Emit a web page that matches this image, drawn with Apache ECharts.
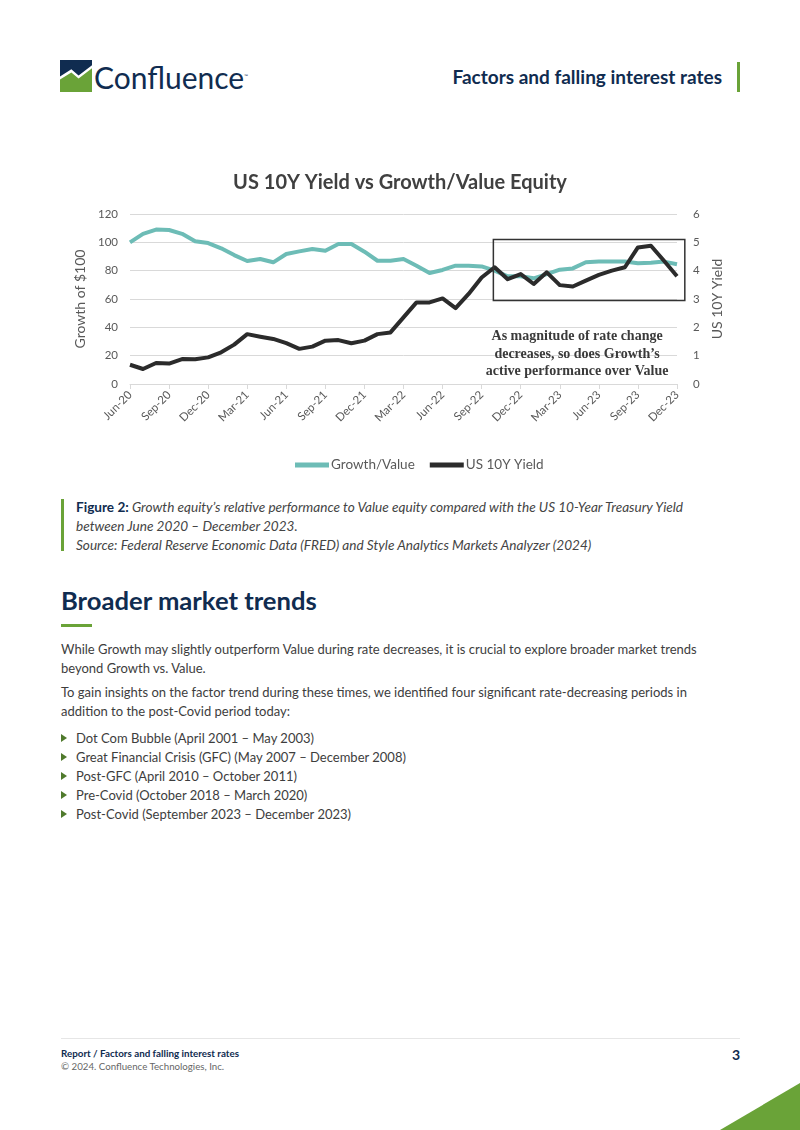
<!DOCTYPE html>
<html>
<head>
<meta charset="utf-8">
<script src="https://cdn.jsdelivr.net/npm/echarts@6/dist/echarts.min.js"></script>
<style>
  html, body { margin: 0; padding: 0; background: #fff; }
  #page { position: relative; width: 800px; height: 1130px; overflow: hidden; font-family: Lato, "Noto Sans", sans-serif; color: #3d3d3d; }
  .abs { position: absolute; white-space: nowrap; }
  .navy { color: #102c50; }
  #chart { position: absolute; left: 0; top: 150px; width: 800px; height: 340px; }
  .cap { font-size: 13.6px; font-style: italic; color: #444; line-height: 19px; }
  .para { font-size: 13px; line-height: 19px; color: #3d3d3d; }
  .bul { font-size: 13px; line-height: 19px; color: #3d3d3d; }
  .bul:before { content: ""; position: absolute; left: 0; top: 5px; border-left: 6px solid #4f7a2c; border-top: 4.5px solid transparent; border-bottom: 4.5px solid transparent; }
</style>
</head>
<body>
<div id="page">
  <!-- 页眉 -->
  <svg class="abs" style="left:60px;top:60px" width="32" height="32" viewBox="0 0 31 31">
    <polygon points="0,0 31,0 31,5 18,15 11,9 0,16" fill="#102c50"/>
    <polygon points="0,19 11,12 18,18 31,8 31,31 0,31" fill="#6aa338"/>
  </svg>
  <div class="abs navy" style="left:94px;top:58px;font-size:30px;line-height:36px;">Confluence<sup style="font-size:5px">™</sup></div>
  <div class="abs navy" style="right:78px;top:65px;font-size:19px;font-weight:bold;line-height:24px;">Factors and falling interest rates</div>
  <div class="abs" style="left:737px;top:62px;width:3px;height:30px;background:#6aa338;"></div>

  <div id="chart"></div>

  <!-- 图注 -->
  <div class="abs" style="left:61px;top:499px;width:3px;height:52px;background:#6aa338;"></div>
  <div class="abs cap" style="left:76px;top:498px;"><b class="navy" style="font-style:normal">Figure 2:</b> Growth equity’s relative performance to Value equity compared with the US 10-Year Treasury Yield<br>between June 2020 – December 2023.<br>Source: Federal Reserve Economic Data (FRED) and Style Analytics Markets Analyzer (2024)</div>

  <!-- 正文 -->
  <div class="abs navy" style="left:61px;top:584px;font-size:25.6px;font-weight:bold;line-height:32px;">Broader market trends</div>
  <div class="abs" style="left:61px;top:624px;width:31px;height:3px;background:#6aa338;"></div>
  <div class="abs para" style="left:61px;top:640px;">While Growth may slightly outperform Value during rate decreases, it is crucial to explore broader market trends<br>beyond Growth vs. Value.</div>
  <div class="abs para" style="left:61px;top:683px;">To gain insights on the factor trend during these times, we identified four significant rate-decreasing periods in<br>addition to the post-Covid period today:</div>
  <div class="abs bul" style="left:61px;top:729px;padding-left:15px;">Dot Com Bubble (April 2001 – May 2003)</div>
  <div class="abs bul" style="left:61px;top:748px;padding-left:15px;">Great Financial Crisis (GFC) (May 2007 – December 2008)</div>
  <div class="abs bul" style="left:61px;top:767px;padding-left:15px;">Post-GFC (April 2010 – October 2011)</div>
  <div class="abs bul" style="left:61px;top:786px;padding-left:15px;">Pre-Covid (October 2018 – March 2020)</div>
  <div class="abs bul" style="left:61px;top:805px;padding-left:15px;">Post-Covid (September 2023 – December 2023)</div>

  <!-- 页脚 -->
  <div class="abs" style="left:61px;top:1038px;width:679px;height:1px;background:#e6e6e6;"></div>
  <div class="abs navy" style="left:61px;top:1047px;font-size:9.8px;font-weight:bold;line-height:12px;">Report / Factors and falling interest rates</div>
  <div class="abs" style="left:61px;top:1060px;font-size:9.7px;line-height:12px;color:#666;">© 2024. Confluence Technologies, Inc.</div>
  <div class="abs navy" style="left:732px;top:1046px;font-size:14px;font-weight:bold;line-height:18px;">3</div>
  <svg class="abs" style="left:0;top:0" width="800" height="1130"><polygon points="720,1130 800,1130 800,1083" fill="#6aa338"/></svg>
</div>

<script>
// 月份（类目轴）
const months = [
  'Jun-20', 'Jul-20', 'Aug-20', 'Sep-20', 'Oct-20', 'Nov-20', 'Dec-20',
  'Jan-21', 'Feb-21', 'Mar-21', 'Apr-21', 'May-21', 'Jun-21', 'Jul-21', 'Aug-21', 'Sep-21', 'Oct-21', 'Nov-21', 'Dec-21',
  'Jan-22', 'Feb-22', 'Mar-22', 'Apr-22', 'May-22', 'Jun-22', 'Jul-22', 'Aug-22', 'Sep-22', 'Oct-22', 'Nov-22', 'Dec-22',
  'Jan-23', 'Feb-23', 'Mar-23', 'Apr-23', 'May-23', 'Jun-23', 'Jul-23', 'Aug-23', 'Sep-23', 'Oct-23', 'Nov-23', 'Dec-23'
];

// Growth/Value（左轴，$100 起）
const growthValue = [
  100, 106, 109, 108.7, 106, 100.7, 99.5,
  95.8, 91, 86.8, 88.2, 85.9, 91.8, 93.6, 95.3, 94.1, 98.8, 98.8, 93.4,
  87, 87, 88.2, 83.5, 78.4, 80.5, 83.5, 83.5, 83, 80, 76, 76,
  74.6, 77.6, 80.7, 81.6, 85.9, 86.4, 86.4, 86.4, 85.2, 85.6, 86.4, 84.5
];

// 美国10年期国债收益率（右轴，%）
const yield10y = [
  0.68, 0.53, 0.74, 0.72, 0.88, 0.87, 0.94,
  1.12, 1.39, 1.76, 1.67, 1.59, 1.44, 1.24, 1.32, 1.53, 1.55, 1.44, 1.53,
  1.76, 1.82, 2.35, 2.88, 2.88, 3.02, 2.68, 3.18, 3.76, 4.12, 3.70, 3.88,
  3.53, 3.94, 3.49, 3.44, 3.65, 3.85, 4.00, 4.12, 4.82, 4.88, 4.35, 3.80
];

// 注释框（月份序号 / 右轴数值）
const boxRange = { from: 27.9, to: 42.6, top: 5.1, bottom: 2.95 };
const noteLines = [
  'As magnitude of rate change',
  'decreases, so does Growth\u2019s',
  'active performance over Value'
];

const TEAL = '#6dbcb6';
const DARK = '#2b2b2b';
const GRAY = '#595959';
const FONT = 'Lato, "Noto Sans", sans-serif';

const chart = echarts.init(document.getElementById('chart'));

chart.setOption({
  animation: false,
  textStyle: { fontFamily: FONT },
  title: {
    text: 'US 10Y Yield vs Growth/Value Equity',
    left: 'center',
    top: 18,
    textStyle: { fontFamily: FONT, fontWeight: 'bold', fontSize: 20, color: '#404040' }
  },
  legend: {
    data: ['Growth/Value', 'US 10Y Yield'],
    left: 290,
    top: 303,
    icon: 'rect',
    itemWidth: 34,
    itemHeight: 5,
    itemGap: 15,
    textStyle: { fontFamily: FONT, fontSize: 13.5, color: GRAY, padding: [0, 0, 0, -3] }
  },
  grid: { left: 130, right: 123, top: 64, bottom: 106 },
  xAxis: {
    type: 'category',
    data: months,
    boundaryGap: false,
    axisLine: { lineStyle: { color: '#d9d9d9' } },
    axisTick: { show: true, interval: 2, length: 5, lineStyle: { color: '#d9d9d9' } },
    axisLabel: { interval: 2, rotate: 45, color: GRAY, fontSize: 11.5, margin: 9, fontFamily: FONT },
    splitLine: { show: false }
  },
  yAxis: [
    {
      type: 'value',
      min: 0, max: 120, interval: 20,
      name: 'Growth of $100',
      nameLocation: 'middle',
      nameGap: 36,
      nameRotate: 90,
      nameTextStyle: { color: GRAY, fontSize: 14, fontFamily: FONT },
      axisLine: { show: false },
      axisTick: { show: false },
      axisLabel: { color: GRAY, fontSize: 11.5, margin: 12, fontFamily: FONT },
      splitLine: { lineStyle: { color: '#d9d9d9' } }
    },
    {
      type: 'value',
      position: 'right',
      min: 0, max: 6, interval: 1,
      name: 'US 10Y Yield',
      nameLocation: 'middle',
      nameGap: 33,
      nameRotate: 90,
      nameTextStyle: { color: GRAY, fontSize: 14, fontFamily: FONT },
      axisLine: { show: false },
      axisTick: { show: false },
      axisLabel: { color: GRAY, fontSize: 11.5, margin: 16, fontFamily: FONT },
      splitLine: { show: false }
    }
  ],
  series: [
    {
      name: 'Growth/Value',
      type: 'line',
      data: growthValue,
      yAxisIndex: 0,
      symbol: 'none',
      color: TEAL,
      lineStyle: { width: 4, color: TEAL, join: 'round' }
    },
    {
      name: 'US 10Y Yield',
      type: 'line',
      data: yield10y,
      yAxisIndex: 1,
      symbol: 'none',
      color: DARK,
      lineStyle: { width: 4, color: DARK, join: 'round' }
    }
  ]
});

// 注释框与文字：按坐标轴换算位置
function drawNote() {
  const x0 = chart.convertToPixel({ xAxisIndex: 0 }, 0);
  const x1 = chart.convertToPixel({ xAxisIndex: 0 }, months.length - 1);
  const step = (x1 - x0) / (months.length - 1);
  const left = x0 + step * boxRange.from;
  const right = x0 + step * boxRange.to;
  const top = chart.convertToPixel({ yAxisIndex: 1 }, boxRange.top);
  const bottom = chart.convertToPixel({ yAxisIndex: 1 }, boxRange.bottom);
  const textTop = chart.convertToPixel({ yAxisIndex: 1 }, 1.98);

  chart.setOption({
    graphic: [
      {
        type: 'rect',
        shape: { x: left, y: top, width: right - left, height: bottom - top },
        style: { fill: 'none', stroke: '#333', lineWidth: 1.5 },
        z: 100
      },
      {
        type: 'text',
        x: (left + right) / 2 - 12,
        y: textTop,
        style: {
          text: noteLines.join('\n'),
          font: 'bold 14px "Liberation Serif", "DejaVu Serif", serif',
          fill: '#3a3a3a',
          align: 'center',
          verticalAlign: 'top',
          lineHeight: 17.5
        },
        z: 100
      }
    ]
  });
}
drawNote();

window.addEventListener('resize', () => chart.resize());
</script>
</body>
</html>
